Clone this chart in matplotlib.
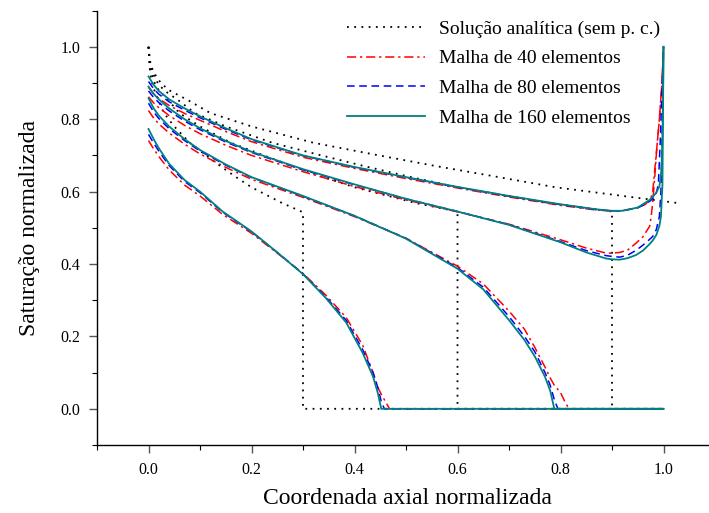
import matplotlib
matplotlib.use("Agg")
import matplotlib.pyplot as plt
from matplotlib.ticker import MultipleLocator, FormatStrFormatter

# ---------------- data ----------------
# analytical solution (no capillary pressure) - four times
an1_x = [0, 0.003, 0.006, 0.01, 0.02, 0.03, 0.05, 0.08, 0.11, 0.14, 0.17, 0.2, 0.23, 0.26, 0.3, 0.3, 1.0]
an1_y = [1.0, 0.93, 0.905, 0.885, 0.85, 0.817, 0.78, 0.735, 0.702, 0.67, 0.64, 0.612, 0.59, 0.568, 0.543, 0.0, 0.0]
an2_x = [0, 0.003, 0.006, 0.012, 0.02, 0.04, 0.06, 0.1, 0.16, 0.22, 0.28, 0.34, 0.4, 0.46, 0.52, 0.6, 0.6, 1.0]
an2_y = [1.0, 0.94, 0.925, 0.90, 0.88, 0.85, 0.817, 0.78, 0.735, 0.702, 0.67, 0.64, 0.612, 0.59, 0.568, 0.545, 0.0, 0.0]
an3_x = [0, 0.003, 0.009, 0.018, 0.03, 0.06, 0.09, 0.15, 0.24, 0.33, 0.42, 0.51, 0.6, 0.69, 0.78, 0.9, 0.9, 1.0]
an3_y = [1.0, 0.95, 0.925, 0.90, 0.88, 0.85, 0.817, 0.78, 0.735, 0.702, 0.67, 0.64, 0.612, 0.59, 0.568, 0.545, 0.0, 0.0]
an4_x = [0, 0.004, 0.012, 0.024, 0.04, 0.08, 0.12, 0.2, 0.32, 0.44, 0.56, 0.68, 0.79, 0.91, 1.03]
an4_y = [1.0, 0.95, 0.925, 0.90, 0.88, 0.85, 0.817, 0.78, 0.735, 0.702, 0.67, 0.64, 0.612, 0.59, 0.568]

# profile A
a160_x = [0, 0.01, 0.02, 0.04, 0.07, 0.1, 0.144, 0.2, 0.25, 0.3, 0.345, 0.384, 0.416, 0.436, 0.445, 0.452, 1.0]
a160_y = [0.773, 0.745, 0.72, 0.677, 0.632, 0.600, 0.545, 0.490, 0.432, 0.372, 0.305, 0.238, 0.154, 0.089, 0.045, 0.0, 0.0]
a80_x = [0, 0.01, 0.02, 0.04, 0.07, 0.1, 0.144, 0.2, 0.25, 0.3, 0.345, 0.384, 0.416, 0.436, 0.445, 0.452, 0.458, 1.0]
a80_y = [0.758, 0.734, 0.712, 0.672, 0.628, 0.597, 0.543, 0.489, 0.432, 0.373, 0.308, 0.244, 0.163, 0.100, 0.06, 0.02, 0.0, 0.0]
a40_x = [0, 0.01, 0.02, 0.04, 0.07, 0.1, 0.144, 0.2, 0.25, 0.3, 0.345, 0.384, 0.416, 0.436, 0.445, 0.452, 0.46, 0.468, 1.0]
a40_y = [0.741, 0.718, 0.697, 0.66, 0.618, 0.588, 0.537, 0.485, 0.43, 0.374, 0.313, 0.252, 0.175, 0.10, 0.06, 0.04, 0.02, 0.0, 0.0]

# profile B
b160_x = [0, 0.01, 0.02, 0.04, 0.07, 0.1, 0.15, 0.2, 0.3, 0.4, 0.5, 0.6, 0.65, 0.7, 0.73, 0.75, 0.77, 0.78, 0.788, 1.0]
b160_y = [0.858, 0.83, 0.81, 0.78, 0.745, 0.715, 0.675, 0.64, 0.588, 0.533, 0.47, 0.387, 0.33, 0.245, 0.19, 0.145, 0.088, 0.05, 0.0, 0.0]
b80_x = [0, 0.01, 0.02, 0.04, 0.07, 0.1, 0.15, 0.2, 0.3, 0.4, 0.5, 0.6, 0.65, 0.7, 0.73, 0.75, 0.77, 0.78, 0.788, 0.795, 1.0]
b80_y = [0.844, 0.82, 0.802, 0.774, 0.741, 0.712, 0.673, 0.639, 0.587, 0.533, 0.471, 0.39, 0.336, 0.255, 0.20, 0.158, 0.10, 0.065, 0.025, 0.0, 0.0]
b40_x = [0, 0.01, 0.02, 0.04, 0.07, 0.1, 0.15, 0.2, 0.3, 0.4, 0.5, 0.6, 0.65, 0.7, 0.73, 0.75, 0.77, 0.78, 0.788, 0.8, 0.81, 0.817, 1.0]
b40_y = [0.824, 0.803, 0.787, 0.762, 0.731, 0.704, 0.667, 0.634, 0.584, 0.531, 0.471, 0.394, 0.345, 0.27, 0.22, 0.17, 0.115, 0.085, 0.065, 0.045, 0.015, 0.0, 0.0]

# profile C
c160_x = [0, 0.01, 0.02, 0.04, 0.07, 0.1, 0.15, 0.2, 0.3, 0.4, 0.5, 0.6, 0.7, 0.8, 0.85, 0.889, 0.9, 0.915, 0.93, 0.947, 0.96, 0.973, 0.979, 0.986, 0.992, 0.995, 0.998, 1.0]
c160_y = [0.89, 0.87, 0.855, 0.83, 0.80, 0.775, 0.74, 0.71, 0.662, 0.62, 0.58, 0.545, 0.508, 0.46, 0.432, 0.415, 0.413, 0.412, 0.416, 0.425, 0.437, 0.455, 0.465, 0.48, 0.505, 0.531, 0.62, 1.0]
c80_x = [0, 0.01, 0.02, 0.04, 0.07, 0.1, 0.15, 0.2, 0.3, 0.4, 0.5, 0.6, 0.7, 0.8, 0.85, 0.889, 0.9, 0.915, 0.93, 0.947, 0.96, 0.973, 0.979, 0.986, 0.992, 0.995, 0.998, 1.0]
c80_y = [0.878, 0.86, 0.846, 0.823, 0.795, 0.771, 0.737, 0.708, 0.66, 0.619, 0.58, 0.545, 0.509, 0.462, 0.437, 0.423, 0.421, 0.419, 0.424, 0.438, 0.452, 0.468, 0.476, 0.495, 0.531, 0.6, 0.8, 1.0]
c40_x = [0, 0.01, 0.02, 0.04, 0.07, 0.1, 0.15, 0.2, 0.3, 0.4, 0.5, 0.6, 0.7, 0.8, 0.85, 0.889, 0.9, 0.915, 0.93, 0.947, 0.96, 0.973, 0.976, 0.979, 0.983, 0.987, 0.992, 0.997, 1.0]
c40_y = [0.862, 0.845, 0.832, 0.81, 0.783, 0.76, 0.728, 0.7, 0.655, 0.614, 0.577, 0.544, 0.51, 0.467, 0.444, 0.43, 0.43, 0.432, 0.438, 0.458, 0.475, 0.504, 0.53, 0.569, 0.64, 0.72, 0.8, 0.9, 1.0]

# profile D
d160_x = [0, 0.01, 0.02, 0.04, 0.07, 0.1, 0.15, 0.2, 0.3, 0.4, 0.5, 0.6, 0.7, 0.8, 0.87, 0.9, 0.92, 0.95, 0.973, 0.985, 0.992, 0.996, 0.998, 0.999, 1.0]
d160_y = [0.918, 0.895, 0.878, 0.855, 0.83, 0.808, 0.775, 0.745, 0.700, 0.668, 0.640, 0.613, 0.588, 0.565, 0.551, 0.547, 0.547, 0.556, 0.577, 0.595, 0.614, 0.66, 0.75, 0.85, 1.0]
d80_x = [0, 0.01, 0.02, 0.04, 0.07, 0.1, 0.15, 0.2, 0.3, 0.4, 0.5, 0.6, 0.7, 0.8, 0.87, 0.9, 0.92, 0.95, 0.96, 0.975, 0.985, 0.99, 0.994, 0.997, 1.0]
d80_y = [0.904, 0.884, 0.869, 0.848, 0.825, 0.804, 0.772, 0.743, 0.699, 0.667, 0.639, 0.612, 0.587, 0.564, 0.55, 0.547, 0.547, 0.555, 0.562, 0.575, 0.59, 0.62, 0.75, 0.88, 1.0]
d40_x = [0, 0.01, 0.02, 0.04, 0.07, 0.1, 0.15, 0.2, 0.3, 0.4, 0.5, 0.6, 0.7, 0.8, 0.87, 0.9, 0.92, 0.95, 0.965, 0.975, 0.979, 0.983, 0.987, 0.992, 0.997, 1.0]
d40_y = [0.888, 0.87, 0.857, 0.838, 0.816, 0.797, 0.766, 0.738, 0.695, 0.664, 0.636, 0.61, 0.585, 0.562, 0.549, 0.546, 0.547, 0.556, 0.565, 0.58, 0.60, 0.66, 0.72, 0.8, 0.9, 1.0]

legend_labels = ["Solução analítica (sem p. c.)", "Malha de 40 elementos",
                 "Malha de 80 elementos", "Malha de 160 elementos"]
xlabel = "Coordenada axial normalizada"
ylabel = "Saturação normalizada"

# ---------------- style ----------------
plt.rcParams['font.family'] = ['Liberation Serif', 'DejaVu Serif']
RED = '#ff0000'
BLUE = '#0000ff'
TEAL = '#008080'

fig = plt.figure(figsize=(7.09, 5.13), dpi=100)
ax = fig.add_axes([97/709, (513-445)/513, 618/709, 434.4/513])

an_kw = dict(color='black', lw=1.3, linestyle=(0, (1, 3)), zorder=1)
red_kw = dict(color=RED, lw=1.1, linestyle=(0, (6, 2.5, 1.5, 2.5)), zorder=2)
blue_kw = dict(color=BLUE, lw=1.1, linestyle=(0, (5, 3)), zorder=3)
teal_kw = dict(color=TEAL, lw=1.3, linestyle='-', zorder=4)

h_an, = ax.plot(an1_x, an1_y, **an_kw)
ax.plot(an2_x, an2_y, **an_kw)
ax.plot(an3_x, an3_y, **an_kw)
ax.plot(an4_x, an4_y, **an_kw)

h_red, = ax.plot(a40_x, a40_y, **red_kw)
ax.plot(b40_x, b40_y, **red_kw)
ax.plot(c40_x, c40_y, **red_kw)
ax.plot(d40_x, d40_y, **red_kw)

h_blue, = ax.plot(a80_x, a80_y, **blue_kw)
ax.plot(b80_x, b80_y, **blue_kw)
ax.plot(c80_x, c80_y, **blue_kw)
ax.plot(d80_x, d80_y, **blue_kw)

h_teal, = ax.plot(a160_x, a160_y, **teal_kw)
ax.plot(b160_x, b160_y, **teal_kw)
ax.plot(c160_x, c160_y, **teal_kw)
ax.plot(d160_x, d160_y, **teal_kw)

ax.set_xlim(-0.1, 1.1)
ax.set_ylim(-0.1, 1.1)
ax.spines['top'].set_visible(False)
ax.spines['right'].set_visible(False)
for s in ('left', 'bottom'):
    ax.spines[s].set_linewidth(1.0)
    ax.spines[s].set_color('black')

ax.xaxis.set_minor_locator(MultipleLocator(0.1))
ax.yaxis.set_minor_locator(MultipleLocator(0.1))
ax.set_xticks([0.0, 0.2, 0.4, 0.6, 0.8, 1.0])
ax.set_yticks([0.0, 0.2, 0.4, 0.6, 0.8, 1.0])
ax.tick_params(which='major', direction='out', length=6, width=1.0, color='#555555',
               labelsize=11.5, pad=6)
ax.tick_params(which='minor', direction='out', length=3.5, width=0.8, color='black')
ax.xaxis.set_major_formatter(FormatStrFormatter('%.1f'))
ax.yaxis.set_major_formatter(FormatStrFormatter('%.1f'))

ax.set_xlabel(xlabel, fontsize=17)
ax.set_ylabel(ylabel, fontsize=17)
ax.xaxis.set_label_coords((407 - 97) / 618, -0.10)
ax.yaxis.set_label_coords((40 - 97) / 618, 0.5)

leg = ax.legend([h_an, h_red, h_blue, h_teal], legend_labels, loc='upper left',
                bbox_to_anchor=(347/709, 1 - 20/513), bbox_transform=fig.transFigure,
                frameon=False, fontsize=14, handlelength=4.0, handletextpad=0.72,
                labelspacing=0.62, borderpad=0, borderaxespad=0)

fig.savefig('out.png', dpi=100)
